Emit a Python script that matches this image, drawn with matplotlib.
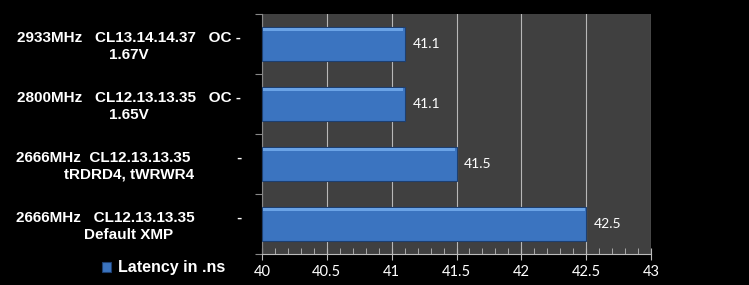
import numpy as np
import matplotlib.pyplot as plt
from matplotlib.ticker import MultipleLocator

configs = [
    "2666MHz   CL12.13.13.35          -\nDefault XMP",
    "2666MHz  CL12.13.13.35           -\ntRDRD4, tWRWR4",
    "2800MHz   CL12.13.13.35   OC -\n1.65V",
    "2933MHz   CL13.14.14.37   OC -\n1.67V",
]
latency = [42.5, 41.5, 41.1, 41.1]
series_name = "Latency in .ns"


def main():
    fig = plt.figure(figsize=(7.49, 2.85), dpi=100, facecolor="black")
    ax = fig.add_axes([0.3498, 0.1088, 0.5194, 0.8422])
    ax.set_facecolor("#404040")

    y = np.arange(len(configs))
    base = 40
    vals = np.array(latency) - base
    bars = ax.barh(y, vals, left=base, height=0.57, color="#3b74c0",
                   edgecolor="#1d3f70", linewidth=0.8, zorder=3, label=series_name)
    # thin light strip near the top for the bevel look
    ax.barh(y + 0.24, vals - 0.02, left=base + 0.01, height=0.05,
            color="#6aa3e6", linewidth=0, zorder=4)

    for yi, v in zip(y, latency):
        ax.text(v + 0.06, yi, f"{v}", color="white", va="center", ha="left",
                fontsize=10, family="Lato", zorder=5)

    ax.set_xlim(40, 43)
    ax.set_ylim(-0.5, len(configs) - 0.5)
    ax.xaxis.set_major_locator(MultipleLocator(0.5))
    ax.xaxis.set_minor_locator(MultipleLocator(0.1))
    ax.xaxis.set_major_formatter(plt.FuncFormatter(lambda v, p: f"{v:g}"))
    ax.grid(axis="x", which="major", color="#b8b8b8", linewidth=0.8, zorder=1)

    ax.set_yticks(np.arange(len(configs) + 1) - 0.5)
    ax.set_yticklabels([])
    ax.set_yticks(y, minor=True)
    ax.set_yticklabels(configs, minor=True, color="white", fontweight="bold",
                       fontsize=11, family="Liberation Sans", ha="center",
                       linespacing=1.2)
    ax.tick_params(axis="y", which="minor", length=0, pad=96)
    ax.tick_params(axis="y", which="major", length=5, color="#888888")
    ax.tick_params(axis="x", which="major", direction="inout", length=8,
                   color="#bbbbbb", labelcolor="white", labelsize=10.5, pad=4)
    ax.tick_params(axis="x", which="minor", direction="in", length=4,
                   color="#bbbbbb")
    for lab in ax.get_xticklabels():
        lab.set_family("Lato")

    for s in ["top", "right"]:
        ax.spines[s].set_visible(False)
    ax.spines["left"].set_color("#888888")
    ax.spines["bottom"].set_color("#bbbbbb")

    leg = fig.legend(handles=[bars], labels=[series_name], loc="center",
                     bbox_to_anchor=(0.218, 0.06), frameon=False,
                     handlelength=0.6, handleheight=0.6, handletextpad=0.4,
                     prop={"weight": "bold", "size": 11.5,
                           "family": "Liberation Sans"})
    for t in leg.get_texts():
        t.set_color("white")

    fig.savefig("out.png", dpi=100, facecolor="black")


if __name__ == "__main__":
    main()
